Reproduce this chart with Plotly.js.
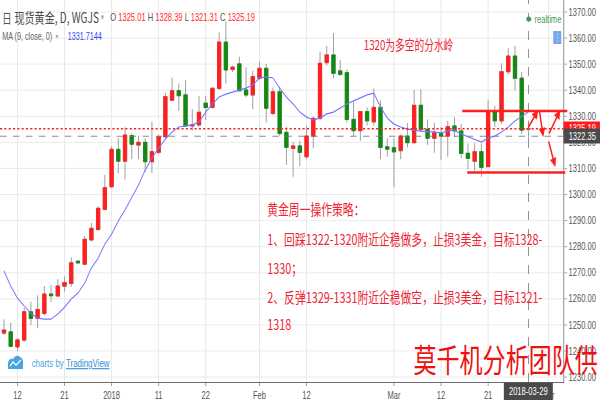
<!DOCTYPE html>
<html>
<head>
<meta charset="utf-8">
<script src="https://cdn.plot.ly/plotly-3.0.1.min.js"></script>
<style>
  html, body { margin: 0; padding: 0; overflow: hidden; background: #fff; }
  #wrap { width: 600px; height: 400px; overflow: hidden; }
  /* the chart is laid out wide and then condensed horizontally */
  #chart { width: 833px; height: 400px; transform: scaleX(0.72029); transform-origin: 0 0; }
</style>
</head>
<body>
<div id="wrap"><div id="chart"></div></div>
<script>
// 现货黄金 日线 (WGJS)
const dates = [
  '2017-12-08','2017-12-11','2017-12-12','2017-12-13','2017-12-14','2017-12-15',
  '2017-12-18','2017-12-19','2017-12-20','2017-12-21','2017-12-22',
  '2017-12-25','2017-12-26','2017-12-27','2017-12-28','2017-12-29',
  '2018-01-02','2018-01-03','2018-01-04','2018-01-05',
  '2018-01-08','2018-01-09','2018-01-10','2018-01-11','2018-01-12',
  '2018-01-15','2018-01-16','2018-01-17','2018-01-18','2018-01-19',
  '2018-01-22','2018-01-23','2018-01-24','2018-01-25','2018-01-26',
  '2018-01-29','2018-01-30','2018-01-31','2018-02-01','2018-02-02',
  '2018-02-05','2018-02-06','2018-02-07','2018-02-08','2018-02-09',
  '2018-02-12','2018-02-13','2018-02-14','2018-02-15','2018-02-16',
  '2018-02-19','2018-02-20','2018-02-21','2018-02-22','2018-02-23',
  '2018-02-26','2018-02-27','2018-02-28','2018-03-01','2018-03-02',
  '2018-03-05','2018-03-06','2018-03-07','2018-03-08','2018-03-09',
  '2018-03-12','2018-03-13','2018-03-14','2018-03-15','2018-03-16',
  '2018-03-19','2018-03-20','2018-03-21','2018-03-22','2018-03-23',
  '2018-03-26','2018-03-27','2018-03-28','2018-03-29'
];

const open = [
  1246.9, 1247.3, 1241.6, 1244.2, 1255.0, 1252.5, 1254.4, 1261.8, 1261.1, 1264.9,
  1265.9, 1274.4, 1273.3, 1282.6, 1286.6, 1294.3, 1303.0, 1317.3, 1312.8, 1322.6,
  1319.0, 1320.0, 1312.6, 1316.2, 1322.2, 1336.2, 1339.8, 1338.2, 1326.3, 1326.7,
  1335.0, 1333.4, 1340.7, 1358.4, 1348.0, 1350.1, 1340.1, 1338.2, 1344.6, 1348.4,
  1331.1, 1339.4, 1323.8, 1317.7, 1318.6, 1314.5, 1322.4, 1329.2, 1350.6, 1353.5,
  1347.4, 1346.7, 1328.8, 1324.5, 1331.8, 1327.9, 1333.4, 1318.3, 1317.9, 1316.8,
  1322.4, 1319.9, 1334.2, 1325.0, 1321.6, 1323.5, 1322.4, 1326.3, 1324.4, 1315.8,
  1312.8, 1316.4, 1310.7, 1331.8, 1328.3, 1347.1, 1353.1, 1344.6, 1325.01
];
const high = [
  1252.2, 1250.8, 1245.0, 1256.5, 1258.9, 1261.4, 1264.9, 1265.3, 1267.6, 1268.5,
  1275.9, 1274.8, 1284.1, 1289.1, 1295.5, 1307.5, 1318.5, 1321.7, 1325.8, 1323.5,
  1322.5, 1321.6, 1327.9, 1323.0, 1339.0, 1344.8, 1342.6, 1343.9, 1332.7, 1337.8,
  1337.8, 1341.2, 1362.1, 1366.5, 1349.5, 1352.9, 1348.8, 1347.5, 1351.0, 1350.1,
  1341.0, 1341.3, 1326.0, 1320.2, 1320.6, 1326.3, 1329.8, 1354.8, 1357.0, 1361.9,
  1351.6, 1348.0, 1335.6, 1331.8, 1333.5, 1340.7, 1336.2, 1321.6, 1321.6, 1323.0,
  1327.3, 1340.1, 1340.4, 1328.8, 1327.5, 1326.0, 1328.3, 1329.6, 1327.0, 1319.6,
  1319.8, 1319.6, 1336.2, 1334.0, 1350.3, 1356.1, 1357.0, 1347.1, 1328.39
];
const low = [
  1246.2, 1241.3, 1240.0, 1243.5, 1250.0, 1248.7, 1253.5, 1258.9, 1260.8, 1262.8,
  1264.6, 1273.5, 1273.0, 1282.0, 1286.0, 1294.0, 1302.5, 1308.2, 1305.8, 1313.5,
  1313.5, 1308.7, 1308.3, 1315.5, 1321.6, 1335.8, 1332.0, 1326.0, 1324.5, 1326.0,
  1328.6, 1333.0, 1340.1, 1342.6, 1347.0, 1339.5, 1337.3, 1332.7, 1344.0, 1327.6,
  1330.5, 1322.5, 1311.3, 1306.8, 1310.9, 1313.5, 1317.7, 1328.5, 1349.5, 1344.6,
  1345.5, 1327.5, 1322.4, 1320.6, 1326.5, 1326.5, 1313.5, 1314.5, 1302.8, 1313.5,
  1318.0, 1319.6, 1324.0, 1319.0, 1316.0, 1313.1, 1314.5, 1322.0, 1314.0, 1309.7,
  1309.0, 1306.8, 1310.4, 1326.0, 1327.0, 1346.0, 1339.8, 1323.2, 1321.31
];
const close = [
  1248.0, 1241.8, 1244.2, 1255.0, 1252.5, 1255.9, 1261.8, 1261.2, 1264.9, 1266.2,
  1273.8, 1273.8, 1282.8, 1287.0, 1294.7, 1302.6, 1317.3, 1312.8, 1322.8, 1319.3,
  1320.0, 1312.6, 1316.4, 1322.2, 1337.5, 1339.8, 1337.9, 1326.3, 1326.7, 1331.5,
  1333.4, 1340.7, 1358.4, 1347.8, 1348.8, 1339.8, 1338.2, 1345.2, 1348.4, 1333.1,
  1339.4, 1323.4, 1318.1, 1318.6, 1316.2, 1322.4, 1329.2, 1350.3, 1353.5, 1346.5,
  1346.1, 1328.8, 1324.5, 1331.8, 1328.3, 1333.4, 1318.1, 1317.4, 1316.4, 1322.4,
  1319.9, 1334.2, 1325.0, 1321.6, 1323.7, 1322.4, 1326.0, 1324.4, 1315.8, 1313.9,
  1316.4, 1310.4, 1331.8, 1328.3, 1347.1, 1353.1, 1344.6, 1324.7, 1325.19
];
// MA(9, close)
const ma9 = [
  1270.7, 1264.9, 1260.3, 1257.2, 1254.5, 1252.6, 1252.2, 1252.2, 1254.2, 1256.8,
  1259.9, 1262.2, 1266.0, 1271.8, 1275.6, 1281.0, 1284.8, 1289.8, 1294.1, 1298.7,
  1303.6, 1309.4, 1314.0, 1317.8, 1321.3, 1324.0, 1325.9, 1326.3, 1326.7, 1327.8,
  1331.6, 1334.7, 1337.4, 1338.5, 1339.3, 1340.1, 1340.8, 1342.0, 1344.7, 1345.1,
  1344.7, 1340.8, 1337.4, 1334.7, 1331.6, 1329.7, 1328.6, 1329.3, 1330.9, 1331.6,
  1333.2, 1334.7, 1335.9, 1337.0, 1338.2, 1338.9, 1333.6, 1329.3, 1327.0, 1325.9,
  1325.1, 1324.7, 1324.4, 1324.0, 1324.0, 1323.6, 1324.4, 1324.7, 1323.2, 1322.1,
  1320.9, 1320.1, 1321.7, 1322.4, 1324.0, 1325.9, 1328.2, 1330.1, 1331.7144
];

// session positions of the bottom-axis labels
const tickPos  = [2, 9, 16, 23, 30, 38, 45, 58, 65, 72, 81];
const tickText = ['12', '21', '2018', '11', '22', 'Feb', '12', 'Mar', '12', '21', 'Apr'];

// 操作策略
const titleNote = '1320为多空的分水岭';
const planLines = [
  '黄金周一操作策略：',
  '1、回踩1322-1320附近企稳做多，止损3美金，目标1328-',
  '1330；',
  '2、反弹1329-1331附近企稳做空，止损3美金，目标1321-',
  '1318'
];
const resistance = 1332.0;
const support = 1308.4;
const crossPrice = 1322.35;
const signature = '莫千机分析团队供';

// ---------------------------------------------------------------
const RED = '#ff1f1f', GREEN = '#128a12', WICK = '#9a9a9a';
const TXT_RED = '#ee2233';
const CJK = '"Noto Sans CJK SC", "Noto Sans", sans-serif';
const LAT = '"Liberation Sans", Arial, sans-serif';

const n = dates.length;
const last = n - 1;
const xs = dates.map((d, i) => i);
const bodyTop = open.map((o, i) => Math.max(o, close[i]));
const bodyBot = open.map((o, i) => Math.min(o, close[i]));

// screen-pixel helpers for the plot area (563 x 382 on screen)
const PW = 563, PH = 382;
const px = v => v / PW;
const py = v => 1 - v / PH;
// screen pixel -> data helpers for the hand-drawn arrows
const XI = v => (v - 4) / 6.72;
const YV = v => 1370 - (v - 12) / 2.607;

const wicks = {
  type: 'candlestick', x: xs, open: open, high: high, low: low, close: close,
  increasing: { line: { color: WICK, width: 1.3 }, fillcolor: WICK },
  decreasing: { line: { color: WICK, width: 1.3 }, fillcolor: WICK },
  whiskerwidth: 0, hoverinfo: 'skip', showlegend: false
};
const bodies = {
  type: 'candlestick', x: xs, open: open, high: bodyTop, low: bodyBot, close: close,
  increasing: { line: { color: RED, width: 1 }, fillcolor: RED },
  decreasing: { line: { color: GREEN, width: 1 }, fillcolor: GREEN },
  whiskerwidth: 0, hoverinfo: 'skip', showlegend: false
};
const maLine = {
  type: 'scatter', mode: 'lines', x: xs, y: ma9,
  line: { color: '#7474ff', width: 1.2 }, hoverinfo: 'skip', showlegend: false
};

function ann(x, y, text, size, color, extra) {
  return Object.assign({
    xref: 'paper', yref: 'paper', x: x, y: y, text: text, showarrow: false,
    xanchor: 'left', yanchor: 'middle',
    font: { size: size, color: color, family: CJK }
  }, extra || {});
}

const f2 = v => v.toFixed(2);
const annotations = [
  ann(px(1), py(17), '日', 13, '#555'),
  ann(px(13), py(17), '现货黄金, D, WGJS', 14, '#4a4a4a'),
  ann(px(99), py(17), '▾', 9, '#aaa', { font: { size: 9, color: '#aaa', family: 'DejaVu Sans' } }),
  ann(px(109), py(17),
      'O <span style="color:#ff2a2a">' + f2(open[last]) + '</span> H <span style="color:#ff2a2a">' + f2(high[last]) +
      '</span> L <span style="color:#ff2a2a">' + f2(low[last]) + '</span> C <span style="color:#ff2a2a">' + f2(close[last]) + '</span>',
      10.5, '#555', { font: { size: 10.5, color: '#555', family: LAT } }),
  ann(px(1), py(37), 'MA (9, close, 0)', 10, '#666', { font: { size: 10, color: '#666', family: LAT } }),
  ann(px(54), py(37), '▾', 8, '#aaa', { font: { size: 8, color: '#aaa', family: 'DejaVu Sans' } }),
  ann(px(66), py(37), ma9[last].toFixed(4), 10, '#3c3cff', { font: { size: 10, color: '#3c3cff', family: LAT } }),
  ann(px(533), py(19), 'realtime', 10.5, '#3d9b5e', { font: { size: 10.5, color: '#3d9b5e', family: LAT } }),
  ann(px(557), py(37.5), '⋮', 10, '#fff', { xanchor: 'center', font: { size: 10, color: '#fff', family: 'DejaVu Sans' } }),
  ann(px(362), py(44), titleNote, 13.5, TXT_RED),
  ann(px(266), py(208), planLines[0], 15, TXT_RED),
  ann(px(266), py(238), planLines[1], 15, TXT_RED),
  ann(px(266), py(267), planLines[2], 15, TXT_RED),
  ann(px(266), py(296), planLines[3], 15, TXT_RED),
  ann(px(266), py(323), planLines[4], 15, TXT_RED),
  ann(px(412), py(358), signature, 32, '#ee1111'),
  ann(px(30), py(363), 'charts by <span style="color:#2f8ed8;text-decoration:underline">TradingView</span>', 11, '#4aa3df',
      { font: { size: 11, color: '#4aa3df', family: LAT } }),
  // price labels on the right scale
  { xref: 'paper', yref: 'y', x: 1, y: close[last], xanchor: 'left', yanchor: 'middle',
    text: f2(close[last]), showarrow: false, bgcolor: '#ff1a1a', width: 51, height: 13, borderpad: 0,
    font: { size: 10.5, color: '#fff', family: LAT } },
  { xref: 'paper', yref: 'y', x: 1, y: crossPrice, xanchor: 'left', yanchor: 'middle',
    text: f2(crossPrice), showarrow: false, bgcolor: '#4a4a4a', width: 51, height: 14, borderpad: 0,
    font: { size: 10.5, color: '#fff', family: LAT } },
  { xref: 'x', yref: 'paper', x: last, y: py(391), xanchor: 'center', yanchor: 'middle',
    text: dates[last], showarrow: false, bgcolor: '#4a4a4a', width: 67, height: 17, borderpad: 0,
    font: { size: 10.5, color: '#fff', family: LAT } }
];

// hand-drawn arrows (tail -> head, in screen pixels)
[[527, 129, 538, 110], [539, 110, 543, 137], [548, 135, 560, 110], [548, 140, 555, 167]].forEach(a => {
  annotations.push({
    xref: 'x', yref: 'y', axref: 'x', ayref: 'y',
    ax: XI(a[0]), ay: YV(a[1]), x: XI(a[2]), y: YV(a[3]),
    text: '', showarrow: true, arrowhead: 2, arrowsize: 0.9, arrowwidth: 2, arrowcolor: RED
  });
});

// TradingView badge path (screen pixels -> paper)
const P = (x, y) => px(x).toFixed(5) + ',' + py(y).toFixed(5);
const cloud = 'M' + P(8, 369) + ' L' + P(8, 363) + ' Q' + P(9, 358) + ' ' + P(13, 359) +
  ' Q' + P(16, 354) + ' ' + P(20, 357) + ' Q' + P(24, 359) + ' ' + P(23, 364) + ' L' + P(23, 369) + ' Z';
const zig = 'M' + P(10, 366) + ' L' + P(13, 362) + ' L' + P(16, 365) + ' L' + P(21, 360);

const shapes = [
  // badge backdrop
  { type: 'rect', xref: 'paper', yref: 'paper', x0: 0, x1: px(120), y0: 0, y1: py(348),
    fillcolor: '#fff', line: { width: 0 }, layer: 'between' },
  { type: 'path', xref: 'paper', yref: 'paper', path: cloud, fillcolor: '#4aa3df', line: { width: 0 } },
  { type: 'path', xref: 'paper', yref: 'paper', path: zig, line: { color: '#fff', width: 1.5 } },
  // last price and cross-hair
  { type: 'line', xref: 'paper', yref: 'y', x0: 0, x1: 1, y0: close[last], y1: close[last],
    line: { color: RED, width: 1.5, dash: 'dot' } },
  { type: 'line', xref: 'paper', yref: 'y', x0: 0, x1: 1, y0: crossPrice, y1: crossPrice,
    line: { color: '#777', width: 1, dash: 'dash' } },
  { type: 'line', xref: 'x', yref: 'paper', x0: last, x1: last, y0: 0, y1: 1,
    line: { color: '#888', width: 1.3, dash: 'dash' } },
  // resistance / support marks
  { type: 'line', xref: 'paper', yref: 'y', x0: px(462), x1: px(567), y0: resistance, y1: resistance,
    line: { color: RED, width: 2.5 } },
  { type: 'line', xref: 'paper', yref: 'y', x0: px(467), x1: px(565), y0: support, y1: support,
    line: { color: RED, width: 2.5 } },
  // realtime dot and menu button
  { type: 'circle', xref: 'paper', yref: 'paper', x0: px(526), x1: px(531), y0: py(21.5), y1: py(16.5),
    fillcolor: '#3d9b5e', line: { width: 0 } },
  { type: 'rect', xref: 'paper', yref: 'paper', x0: px(553), x1: px(561), y0: py(44), y1: py(31),
    fillcolor: '#74a8e8', line: { width: 0 } }
];

const layout = {
  width: 833, height: 400,
  margin: { l: 0, r: 51, t: 0, b: 18, pad: 0 },
  paper_bgcolor: '#fff', plot_bgcolor: '#fff',
  showlegend: false, hovermode: false, dragmode: false,
  boxgap: 0.3,
  xaxis: {
    type: 'linear', range: [-0.595, 83.18], rangeslider: { visible: false },
    tickmode: 'array', tickvals: tickPos, ticktext: tickText,
    showgrid: true, gridcolor: '#e8e8e8', gridwidth: 1.3, zeroline: false,
    showline: true, linecolor: '#555', linewidth: 1,
    ticks: 'outside', ticklen: 3, tickcolor: '#999', tickwidth: 1.3,
    tickfont: { size: 10.5, color: '#555', family: LAT }, fixedrange: true
  },
  yaxis: {
    side: 'right', range: [1228.1, 1374.6], tick0: 1230, dtick: 10, tickformat: '.2f',
    showgrid: true, gridcolor: '#e8e8e8', zeroline: false,
    showline: true, linecolor: '#8a8a8a', linewidth: 1.3,
    ticks: 'outside', ticklen: 4, tickcolor: '#999',
    tickfont: { size: 10.5, color: '#555', family: LAT }, fixedrange: true
  },
  shapes: shapes,
  annotations: annotations
};

Plotly.newPlot('chart', [wicks, bodies, maLine], layout, { displayModeBar: false, staticPlot: true });
</script>
</body>
</html>
